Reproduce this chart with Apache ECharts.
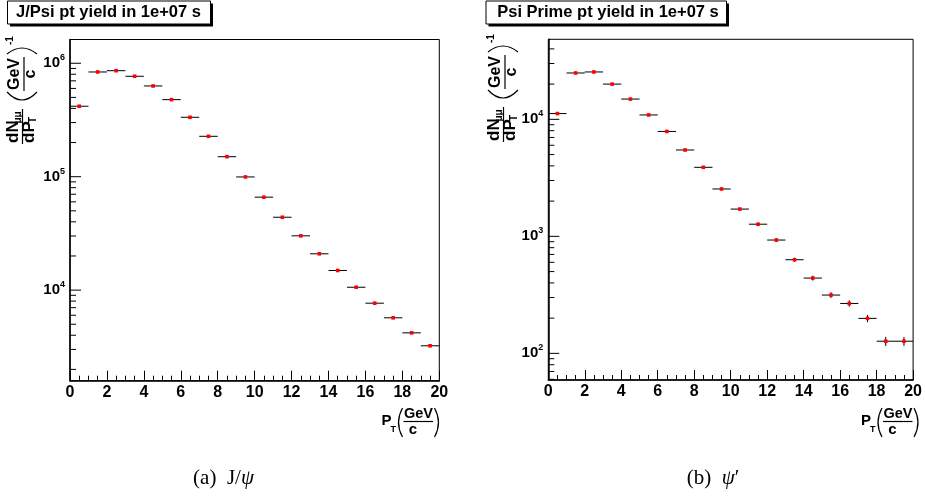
<!DOCTYPE html>
<html><head><meta charset="utf-8">
<script src="https://cdn.jsdelivr.net/npm/echarts@6/dist/echarts.min.js"></script>
<style>html,body{margin:0;padding:0;background:#fff}#c{width:925px;height:499px}</style>
</head><body><div id="c"></div>
<script>
// ---- data ----
const binCenters = [0.5,1.5,2.5,3.5,4.5,5.5,6.5,7.5,8.5,9.5,10.5,11.5,12.5,13.5,14.5,15.5,16.5,17.5,18.5,19.5];
const jpsiYield = [4.18e5,8.38e5,8.6e5,7.68e5,6.31e5,4.78e5,3.34e5,2.27e5,1.50e5,9.95e4,6.6e4,4.39e4,3.01e4,2.09e4,1.49e4,1.06e4,7.67e3,5.70e3,4.2e3,3.23e3];
const psiPrimeYield = [1.12e4,2.49e4,2.54e4,2.0e4,1.49e4,1.09e4,7.88e3,5.47e3,3.89e3,2.54e3,1.71e3,1.27e3,930,631,440,315,267,199,127,127];
const binHalfWidth = 0.5;
const jpsiRange = [1590, 1.62e6];
const psiRange = [59.2, 4.83e4];
const xRange = [0, 20];
const titles = ['J/Psi pt yield in 1e+07 s', 'Psi Prime pt yield in 1e+07 s'];
const captions = ['(a)  J/{i|ψ}', '(b)  {i|ψ}′'];

const FONT = '"Liberation Sans", Arial, sans-serif';
const SERIF = '"Liberation Serif", "DejaVu Serif", serif';

function logTicks(r) {
  const out = [];
  for (let e = Math.floor(Math.log10(r[0])); e <= Math.ceil(Math.log10(r[1])); e++) {
    for (let m = 1; m <= 9; m++) {
      const v = m * Math.pow(10, e);
      if (v >= r[0] && v <= r[1]) out.push([xRange[0], v, m === 1 ? 1 : 0]);
    }
  }
  return out;
}
function logLabel(v) {
  const l = Math.log10(v), e = Math.round(l);
  if (Math.abs(l - e) > 1e-3) return '';
  return '{b|10}{s|' + e + '}';
}
const labelRich = {
  b: {fontFamily: FONT, fontWeight: 'bold', fontSize: 15, color: '#000', lineHeight: 20},
  s: {fontFamily: FONT, fontWeight: 'bold', fontSize: 9, color: '#000', lineHeight: 10, verticalAlign: 'top'}
};

function xAxisCfg(i) {
  return {
    type: 'value', gridIndex: i, min: xRange[0], max: xRange[1], interval: 2,
    axisLine: {show: true, onZero: false, lineStyle: {color: '#000', width: 1.5}},
    axisTick: {show: true, inside: true, length: 10, lineStyle: {color: '#000', width: 1}},
    minorTick: {show: true, splitNumber: 4, length: 5, lineStyle: {color: '#000', width: 1}},
    splitLine: {show: false}, minorSplitLine: {show: false},
    axisLabel: {fontFamily: FONT, fontWeight: 'bold', fontSize: 16, color: '#000', margin: 4}
  };
}
function yAxisCfg(i, r) {
  return {
    type: 'log', logBase: 10, gridIndex: i, min: r[0], max: r[1],
    axisLine: {show: true, onZero: false, lineStyle: {color: '#000', width: 1.5}},
    axisTick: {show: false}, minorTick: {show: false}, splitLine: {show: false},
    axisLabel: {formatter: logLabel, rich: labelRich, margin: 5}
  };
}
function renderPoint(params, api) {
  const x = api.value(0), y = api.value(1), e = api.value(2);
  const c = api.coord([x, y]);
  const l = api.coord([x - binHalfWidth, y]);
  const r = api.coord([x + binHalfWidth, y]);
  const t = api.coord([x, y + e]);
  const b = api.coord([x, y - e]);
  return {type: 'group', children: [
    {type: 'line', shape: {x1: l[0], y1: c[1], x2: r[0], y2: c[1]}, style: {stroke: '#000', lineWidth: 1}},
    {type: 'line', shape: {x1: c[0], y1: t[1], x2: c[0], y2: b[1]}, style: {stroke: '#000', lineWidth: 1}},
    {type: 'rect', shape: {x: c[0] - 1.8, y: c[1] - 1.8, width: 3.6, height: 3.6}, style: {fill: '#ff0000'}}
  ]};
}
function renderTick(params, api) {
  const p = api.coord([api.value(0), api.value(1)]);
  const len = api.value(2) ? 11 : 6;
  return {type: 'line', shape: {x1: p[0], y1: p[1], x2: p[0] + len, y2: p[1]}, style: {stroke: '#000', lineWidth: 1}};
}
function pointData(vals) { return binCenters.map((x, i) => [x, vals[i], Math.sqrt(vals[i])]); }

// ---- text decorations ----
function txt(x, y, text, font, align) {
  return {type: 'text', x: x, y: y, style: {text: text, font: font, fill: '#000', align: align || 'left', textAlign: align || 'left', verticalAlign: 'middle', textVerticalAlign: 'middle'}};
}
function ln(x1, y1, x2, y2) { return {type: 'line', shape: {x1, y1, x2, y2}, style: {stroke: '#000', lineWidth: 1.2}}; }
function paren(x, yTop, yBot, cx) {
  return {type: 'bezierCurve', shape: {x1: x, y1: yTop, x2: x, y2: yBot, cpx1: cx, cpy1: (yTop + yBot) / 2}, style: {stroke: '#000', lineWidth: 1.2, fill: null}};
}
const B17 = 'bold 17px ' + FONT, B16 = 'bold 16px ' + FONT, B15 = 'bold 15px ' + FONT, B14 = 'bold 14.5px ' + FONT, B10 = 'bold 10px ' + FONT, B9 = 'bold 9px ' + FONT;
function yTitle(X0, Y0) {
  return {type: 'group', x: X0, y: Y0, rotation: Math.PI / 2, children: [
    txt(2, 13.5, 'dN', B17), txt(21.5, 18, 'μμ', B10),
    ln(1, 22.5, 36, 22.5),
    txt(2, 29.5, 'dP', B17), txt(22, 33.5, 'T', B10),
    paren(53, 7, 37, 37),
    txt(55, 15, 'GeV', B16), ln(54, 24, 88, 24), txt(71, 30.5, 'c', B16, 'center'),
    paren(91, 7, 37, 103),
    txt(100, 10, '-1', B10)
  ]};
}
function xTitle(dx) {
  return {type: 'group', x: dx, y: 0, children: [
    txt(381.5, 421, 'P', B15), txt(390.5, 429.5, 'T', B9),
    paren(402.5, 408, 437, 394.5),
    txt(404, 414, 'GeV', B14), ln(403.5, 421.5, 433, 421.5), txt(413, 429.5, 'c', B15, 'center'),
    paren(434.5, 408, 437, 442.5)
  ]};
}
function titleBox(x, w, cx, text) {
  return [
    {type: 'rect', shape: {x: x + 2.5, y: 3.5, width: w, height: 23}, style: {fill: '#000'}},
    {type: 'rect', shape: {x: x, y: 1, width: w, height: 23}, style: {fill: '#fff', stroke: '#000', lineWidth: 1}},
    {type: 'text', x: cx, y: 12.5, style: {text: text, font: 'bold 16.5px ' + FONT, fill: '#000', align: 'center', textAlign: 'center', verticalAlign: 'middle', textVerticalAlign: 'middle'}}
  ];
}
function caption(cx, text) {
  return {type: 'text', x: cx, y: 478, style: {text: text, font: '21px ' + SERIF, fill: '#000', align: 'center', textAlign: 'center', verticalAlign: 'middle', textVerticalAlign: 'middle',
    rich: {i: {fontFamily: SERIF, fontStyle: 'italic', fontSize: 21, color: '#000'}}}};
}

const chart = echarts.init(document.getElementById('c'), null, {renderer: 'canvas'});
chart.setOption({
  backgroundColor: '#fff',
  animation: false,
  grid: [
    {left: 70, top: 39.5, width: 369.3, height: 341.2, show: true, borderColor: '#000', borderWidth: 1},
    {left: 548.3, top: 39.3, width: 370, height: 340.7, show: true, borderColor: '#000', borderWidth: 1}
  ],
  xAxis: [xAxisCfg(0), xAxisCfg(1)],
  yAxis: [yAxisCfg(0, jpsiRange), yAxisCfg(1, psiRange)],
  series: [
    {type: 'custom', xAxisIndex: 0, yAxisIndex: 0, silent: true, data: logTicks(jpsiRange), renderItem: renderTick},
    {type: 'custom', xAxisIndex: 1, yAxisIndex: 1, silent: true, data: logTicks(psiRange), renderItem: renderTick},
    {type: 'custom', name: 'J/Psi', xAxisIndex: 0, yAxisIndex: 0, silent: true, data: pointData(jpsiYield), renderItem: renderPoint},
    {type: 'custom', name: 'Psi Prime', xAxisIndex: 1, yAxisIndex: 1, silent: true, data: pointData(psiPrimeYield), renderItem: renderPoint}
  ],
  graphic: [
    ...titleBox(7.5, 203, 108.5, titles[0]),
    ...titleBox(486, 240.5, 608, titles[1]),
    yTitle(0, 145), yTitle(481, 143),
    xTitle(0), xTitle(479.5),
    caption(223.5, captions[0]), caption(713, captions[1])
  ]
});
</script>
</body></html>
